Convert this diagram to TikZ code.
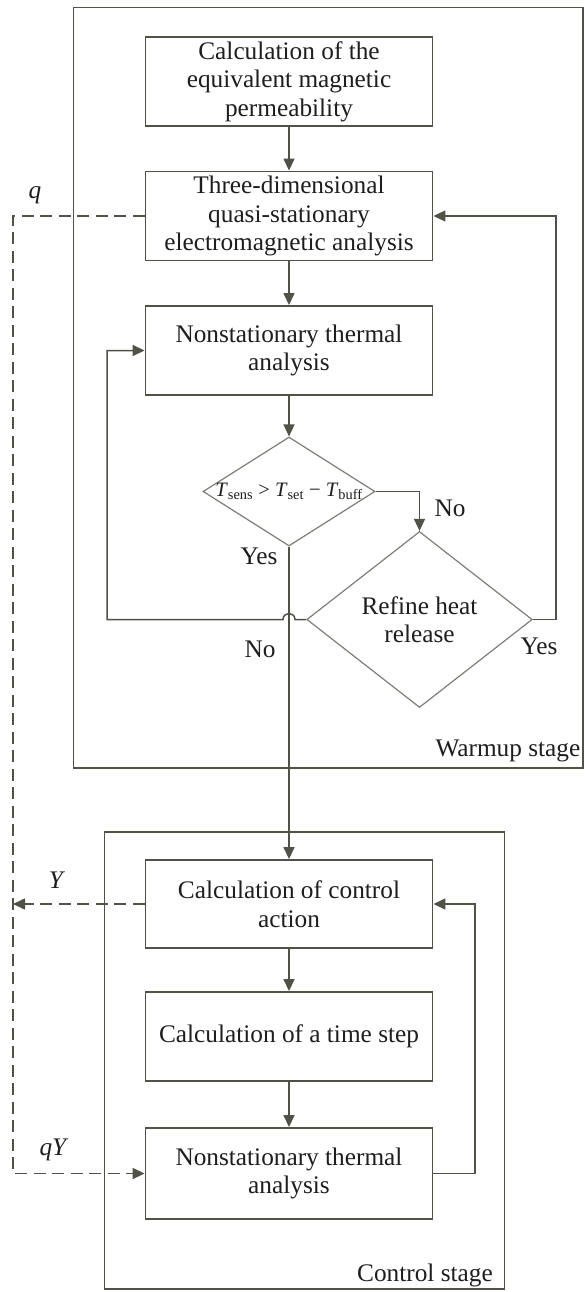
\documentclass[tikz,border=0pt]{standalone}
\usepackage{fontspec}
\setmainfont{Liberation Serif}
\usetikzlibrary{arrows.meta,shapes.geometric}
\definecolor{lc}{RGB}{80,82,72}
\definecolor{dc}{RGB}{125,126,116}
\definecolor{tc}{RGB}{30,30,28}
\begin{document}
\begin{tikzpicture}[x=1pt,y=-1pt,
  every node/.style={text=tc, font=\fontsize{25.3}{28.5}\selectfont},
  box/.style={draw=lc, line width=1.9pt, rectangle, minimum width=287pt, minimum height=89pt, inner sep=0pt, align=center},
  dec/.style={draw=dc, line width=1.2pt, diamond, inner sep=0pt, align=center},
  stage/.style={draw=lc, line width=1.8pt, rectangle, inner sep=0pt},
  tip/.style={-{Triangle[length=12pt,width=11pt]}},
  arr/.style={draw=lc, line width=1.5pt, tip},
  dsh/.style={draw=lc, line width=1.6pt, dash pattern=on 12pt off 6.5pt},
  lab/.style={inner sep=0pt}
]
\useasboundingbox[fill=white] (0,0) rectangle (585,1292);

% stage frames
\node[stage, minimum width=509.5pt, minimum height=760.5pt] (warm) at (328.25,387.75) {};
\node[stage, minimum width=400pt, minimum height=457pt] (ctrl) at (304.5,1060.5) {};
\node[lab, anchor=east] (warmlab) at (580.5,751) {Warmup stage};
\node[lab, anchor=east] (ctrllab) at (493,1275) {Control stage};

% process boxes
\node[box] (b1) at (289,81.5) {Calculation of the\\equivalent magnetic\\permeability};
\node[box] (b2) at (289,216) {Three-dimensional\\quasi-stationary\\electromagnetic analysis};
\node[box] (b3) at (289,350.5) {Nonstationary thermal\\analysis};
\node[box, minimum height=88pt] (b4) at (289,904) {Calculation of control\\action};
\node[box] (b5) at (289,1036.5) {Calculation of a time step};
\node[box, minimum height=91pt] (b6) at (289,1173.5) {Nonstationary thermal\\analysis};

% decisions
\node[dec, minimum width=172pt, minimum height=109pt] (d1) at (289,491.5)
  {\makebox[0pt]{\fontsize{20.5}{22}\selectfont\textit{T}\textsubscript{sens} {>} \textit{T}\textsubscript{set} − \textit{T}\textsubscript{buff}}};
\node[dec, minimum width=225.5pt, minimum height=176pt] (d2) at (419.5,619.5) {Refine heat\\release};

% labels
\node[lab] (yes1) at (259,556) {Yes};
\node[lab] (no1) at (450,508) {No};
\node[lab] (no2) at (260,649) {No};
\node[lab] (yes2) at (539,646) {Yes};
\node[lab] (lq) at (35,195) {\textit{q}};
\node[lab] (lY) at (57,880) {\textit{Y}};
\node[lab] (lqY) at (54,1150) {\textit{qY}};

% helper coordinates
\coordinate (hopR) at (295,619.5);
\coordinate (hopL) at (283,619.5);
\coordinate (lx) at (107,619.5);
\coordinate (rx) at (556,216);
\coordinate (cx) at (475,904);
\coordinate (qx) at (13,216);
\coordinate (qyx) at (13,1173.5);
\coordinate (yx) at (13,904);

% main flow
\draw[arr] (b1) -- (b2);
\draw[arr] (b2) -- (b3);
\draw[arr] (b3.south) -- (d1.north);
\draw[arr] (d1.east) -| (d2.north);
\draw[arr] (d1.south) -- (b4.north);
\draw[arr] (d2.west) -- (hopR) .. controls (295,611.5) and (283,611.5) .. (hopL) -- (lx) |- (b3.west);
\draw[arr] (d2.east) -| (rx) -- (b2.east);
\draw[arr] (b4) -- (b5);
\draw[arr] (b5) -- (b6);
\draw[arr] (b6.east) -| (cx) -- (b4.east);

% dashed data links
\draw[dsh, tip] (b2.west) -- (qx) -- (qyx) -- (b6.west);
\draw[dsh, tip] (b4.west) -- (yx);
\end{tikzpicture}
\end{document}
